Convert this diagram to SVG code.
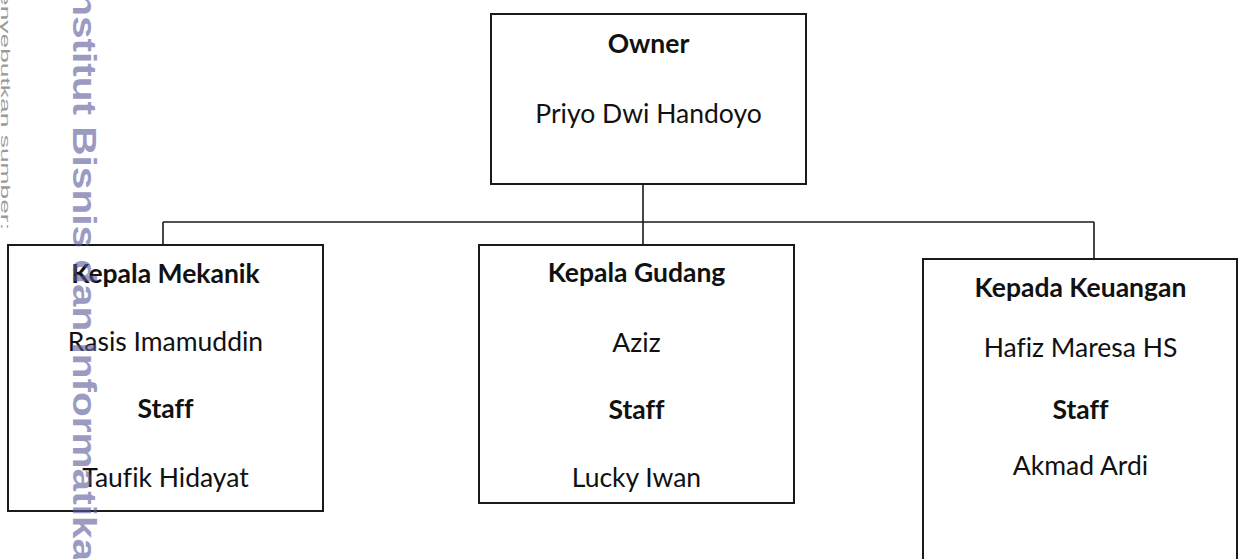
<svg xmlns="http://www.w3.org/2000/svg" width="1242" height="559" viewBox="0 0 1242 559">
<style>
.box{fill:#fff;stroke:#1a1a1a;stroke-width:2}
.con{fill:none;stroke:#1a1a1a;stroke-width:1.6}
text{font-family:Lato,"Liberation Sans",sans-serif;font-size:26.5px;fill:#111;text-anchor:middle;font-variant-ligatures:none}
.b{font-weight:bold}
.wm{font-family:"Liberation Sans",Arial,sans-serif;font-weight:bold;font-size:34px;fill:#5a5a9a;opacity:0.6;text-anchor:start}
.note{font-family:"Liberation Sans",Arial,sans-serif;font-size:12px;fill:#9a9a9a;text-anchor:end}
</style>
<rect width="1242" height="559" fill="#fff"/>
<g id="connectors">
<path class="con" d="M643 184V222M163 222H1094M163 222V245M643 222V245M1094 222V259"/>
</g>
<g id="owner">
<rect class="box" x="491" y="14" width="315" height="170"/>
<text class="b" x="648.5" y="53">Owner</text>
<text x="648.5" y="123">Priyo Dwi Handoyo</text>
</g>
<g id="kepala-mekanik">
<rect class="box" x="8" y="245" width="315" height="266"/>
<text class="b" x="165.5" y="283">Kepala Mekanik</text>
<text x="165.5" y="351">Rasis Imamuddin</text>
<text class="b" x="165.5" y="418">Staff</text>
<text x="165.5" y="487">Taufik Hidayat</text>
</g>
<g id="kepala-gudang">
<rect class="box" x="479" y="245" width="315" height="258"/>
<text class="b" x="636.5" y="282">Kepala Gudang</text>
<text x="636.5" y="352">Aziz</text>
<text class="b" x="636.5" y="419">Staff</text>
<text x="636.5" y="487">Lucky Iwan</text>
</g>
<g id="kepala-keuangan">
<rect class="box" x="923" y="259" width="314" height="320"/>
<text class="b" x="1080.5" y="297">Kepada Keuangan</text>
<text x="1080.5" y="357">Hafiz Maresa HS</text>
<text class="b" x="1080.5" y="419">Staff</text>
<text x="1080.5" y="475">Akmad Ardi</text>
</g>
<g id="watermark">
<text class="note" transform="translate(1,230) rotate(90)" textLength="261" lengthAdjust="spacingAndGlyphs">menyebutkan sumber:</text>
<text class="wm" transform="translate(73,-20) rotate(90)" textLength="581" lengthAdjust="spacingAndGlyphs">Institut Bisnis dan Informatika</text>
</g>
</svg>
